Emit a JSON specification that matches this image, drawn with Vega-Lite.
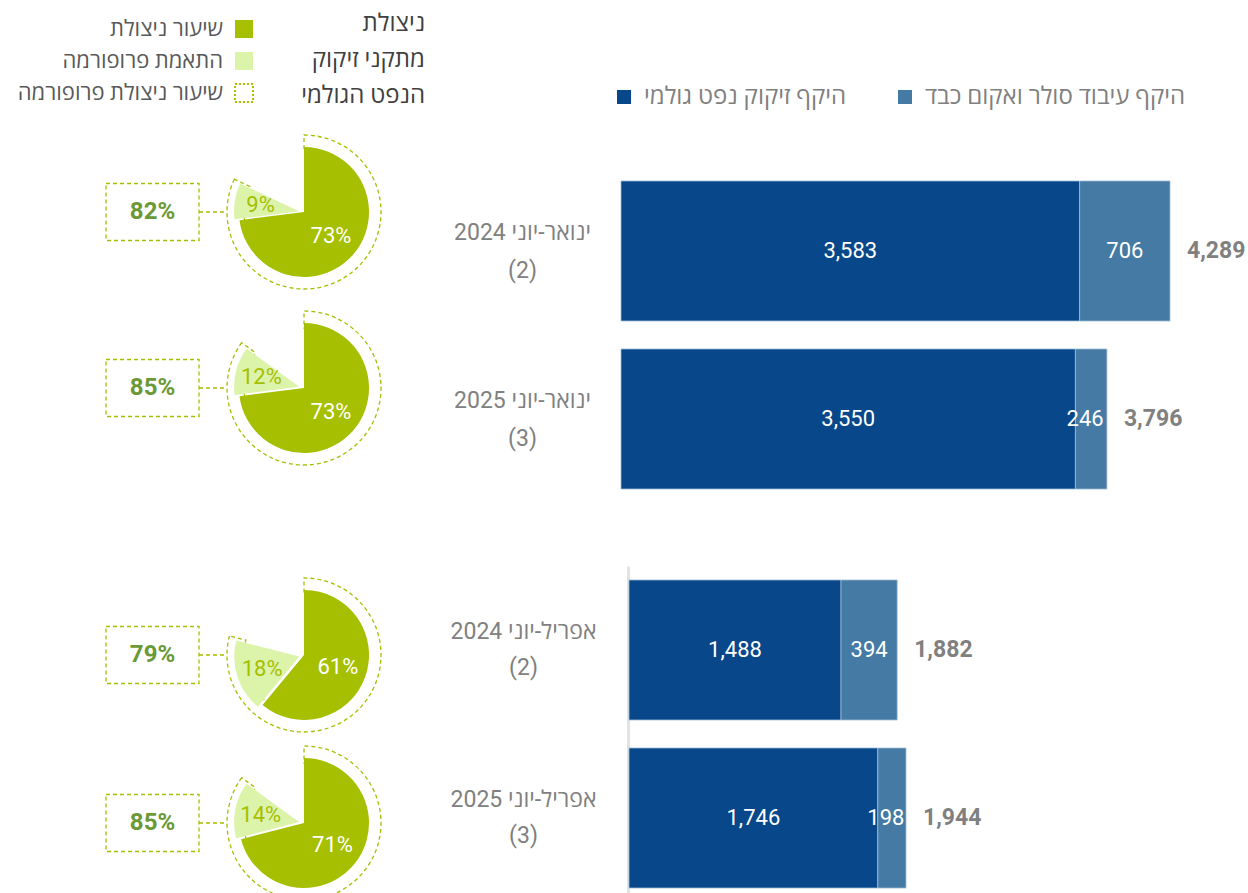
{
  "$schema": "https://vega.github.io/schema/vega-lite/v6.json",
  "autosize": {"type": "pad"},
  "padding": 0,
  "background": "white",
  "config": {
    "view": {"stroke": null},
    "font": "Roboto, 'Open Sans', 'Liberation Sans', sans-serif"
  },
  "datasets": {
    "pie1": [
      {"label": "ינואר-יוני 2024 (2)", "part": "שיעור ניצולת", "value": 73, "total": 82},
      {"label": "ינואר-יוני 2024 (2)", "part": "התאמת פרופורמה", "value": 9, "total": 82},
      {"label": "ינואר-יוני 2025 (3)", "part": "שיעור ניצולת", "value": 73, "total": 85},
      {"label": "ינואר-יוני 2025 (3)", "part": "התאמת פרופורמה", "value": 12, "total": 85}
    ],
    "pie2": [
      {"label": "אפריל-יוני 2024 (2)", "part": "שיעור ניצולת", "value": 61, "total": 79},
      {"label": "אפריל-יוני 2024 (2)", "part": "התאמת פרופורמה", "value": 18, "total": 79},
      {"label": "אפריל-יוני 2025 (3)", "part": "שיעור ניצולת", "value": 71, "total": 85},
      {"label": "אפריל-יוני 2025 (3)", "part": "התאמת פרופורמה", "value": 14, "total": 85}
    ],
    "bars1": [
      {"label": "ינואר-יוני 2024 (2)", "series": "היקף זיקוק נפט גולמי", "value": 3583},
      {"label": "ינואר-יוני 2024 (2)", "series": "היקף עיבוד סולר ואקום כבד", "value": 706},
      {"label": "ינואר-יוני 2025 (3)", "series": "היקף זיקוק נפט גולמי", "value": 3550},
      {"label": "ינואר-יוני 2025 (3)", "series": "היקף עיבוד סולר ואקום כבד", "value": 246}
    ],
    "bars2": [
      {"label": "אפריל-יוני 2024 (2)", "series": "היקף זיקוק נפט גולמי", "value": 1488},
      {"label": "אפריל-יוני 2024 (2)", "series": "היקף עיבוד סולר ואקום כבד", "value": 394},
      {"label": "אפריל-יוני 2025 (3)", "series": "היקף זיקוק נפט גולמי", "value": 1746},
      {"label": "אפריל-יוני 2025 (3)", "series": "היקף עיבוד סולר ואקום כבד", "value": 198}
    ],
    "titleLines": [
      {"line": "ניצולת"},
      {"line": "מתקני זיקוק"},
      {"line": "הנפט הגולמי"}
    ]
  },
  "columns": 2,
  "spacing": {"row": 63, "column": 13},
  "align": "each",
  "bounds": "flush",
  "resolve": {"scale": {"x": "independent", "y": "independent"}},
  "concat": [
    {
      "width": 608,
      "height": 503,
      "resolve": {"scale": {"y": "independent"}},
      "layer": [
        {
          "data": {"name": "titleLines"},
          "mark": {"type": "text", "align": "right", "dx": 121, "fontSize": 24, "fill": "#404040"},
          "encoding": {
            "y": {"field": "line", "type": "nominal", "sort": null, "axis": null, "scale": {"type": "point", "range": [24, 96], "padding": 0}},
            "text": {"field": "line"}
          }
        },
        {
          "data": {"name": "pie1"},
          "transform": [
            {"stack": "value", "groupby": ["label"], "sort": [{"field": "part", "order": "descending"}], "as": ["t0", "t1"]}
          ],
          "encoding": {
            "y": {"field": "label", "type": "nominal", "sort": null, "axis": null, "scale": {"type": "point", "range": [212, 388], "padding": 0}}
          },
          "layer": [
            {
              "transform": [{"filter": "datum.t0 > 0"}],
              "mark": {"type": "arc", "radius": 77, "radius2": 60, "filled": false, "stroke": "#a6bf00", "strokeDash": [4, 3], "strokeWidth": 1.3},
              "encoding": {
                "theta": {"field": "t1", "type": "quantitative", "stack": null, "scale": {"domain": [0, 100]}},
                "theta2": {"datum": 0}
              }
            },
            {
              "mark": {
                "type": "arc", "radius": 65,
                "xOffset": {"expr": "datum.t0 > 0 ? 5*sin(PI*(datum.t0+datum.t1)/100) : 0"},
                "yOffset": {"expr": "datum.t0 > 0 ? -5*cos(PI*(datum.t0+datum.t1)/100) : 0"}
              },
              "encoding": {
                "theta": {"field": "t1", "type": "quantitative", "stack": null, "scale": {"domain": [0, 100]}},
                "theta2": {"field": "t0"},
                "fill": {
                  "field": "part", "type": "nominal",
                  "scale": {"domain": ["שיעור ניצולת", "התאמת פרופורמה", "שיעור ניצולת  פרופורמה"], "range": ["#a6bf00", "#dcf3aa", "#ffffff"]},
                  "legend": {
                    "orient": "none", "legendX": 233, "legendY": 18, "direction": "vertical",
                    "symbolType": "square", "symbolSize": 324, "symbolStrokeWidth": 0,
                    "labelAlign": "right", "labelOffset": -32, "labelFontSize": 22, "labelColor": "#595959", "labelLimit": 400,
                    "rowPadding": 6, "title": null, "padding": 0,
                    "encode": {
                      "symbols": {
                        "update": {
                          "stroke": {"signal": "datum.value === 'שיעור ניצולת  פרופורמה' ? '#a6bf00' : 'transparent'"},
                          "strokeDash": {"signal": "datum.value === 'שיעור ניצולת  פרופורמה' ? [2,2] : [1,0]"},
                          "strokeWidth": {"value": 2}
                        }
                      }
                    }
                  }
                }
              }
            },
            {
              "mark": {
                "type": "text", "fontSize": 22,
                "radius": {"expr": "datum.t0 > 0 ? 44 : 36"},
                "theta": {"expr": "PI*(datum.t0+datum.t1)/100"},
                "fill": {"expr": "datum.t0 > 0 ? '#a6bf00' : '#ffffff'"},
                "text": {"expr": "datum.value + '%'"}
              }
            },
            {
              "transform": [{"filter": "datum.t0 > 0"}],
              "mark": {"type": "point", "shape": "M-1,-0.613H1V0.613H-1Z M1,0H1.6", "size": 8649, "xOffset": -151.5, "filled": false, "opacity": 1, "stroke": "#a6bf00", "strokeDash": [4, 3], "strokeWidth": 1.3}
            },
            {
              "transform": [{"filter": "datum.t0 > 0"}],
              "mark": {"type": "text", "dx": -151.5, "fontSize": 24, "fontWeight": "bold", "fill": "#6a9936", "text": {"expr": "datum.total + '%'"}}
            }
          ]
        }
      ]
    },
    {
      "width": 549,
      "height": 503,
      "data": {"name": "bars1"},
      "encoding": {
        "y": {
          "field": "label", "type": "nominal", "sort": null,
          "scale": {"type": "band", "range": [167, 503], "paddingInner": 0.1667, "paddingOuter": 0.0833},
          "axis": {
            "title": null, "domain": false, "ticks": false, "tickSize": 0, "labelPadding": 99, "labelAlign": "center",
            "labelFontSize": 23, "labelColor": "#808080", "labelLineHeight": 38, "labelOffset": -18,
            "labelExpr": "[slice(datum.label, -8, -4) + ' ' + slice(datum.label, 0, -9), slice(datum.label, -3)]"
          }
        }
      },
      "layer": [
        {
          "mark": {"type": "bar", "stroke": "#9dbbd6", "strokeWidth": 0.8},
          "encoding": {
            "x": {"field": "value", "type": "quantitative", "stack": "zero", "axis": null, "scale": {"domain": [0, 4289], "nice": false}},
            "color": {
              "field": "series", "type": "nominal",
              "scale": {"domain": ["היקף זיקוק נפט גולמי", "היקף עיבוד סולר ואקום כבד"], "range": ["#08478a", "#447aa3"]},
              "legend": {
                "orient": "none", "legendX": 612, "legendY": 85, "direction": "horizontal",
                "symbolType": "square", "symbolSize": 196, "symbolStrokeWidth": 0,
                "labelFontSize": 24, "labelColor": "#808080", "labelLimit": 400, "labelOffset": 8,
                "columnPadding": 46, "title": null, "padding": 0
              }
            },
            "order": {"field": "series", "sort": "ascending"}
          }
        },
        {
          "mark": {"type": "text", "fontSize": 22, "fill": "#ffffff", "dx": {"expr": "datum.value < 300 ? -6 : 0"}},
          "encoding": {
            "x": {"field": "value", "type": "quantitative", "stack": "zero", "bandPosition": 0.5},
            "detail": {"field": "series"},
            "order": {"field": "series", "sort": "ascending"},
            "text": {"field": "value", "type": "quantitative", "format": ",d"}
          }
        },
        {
          "transform": [{"aggregate": [{"op": "sum", "field": "value", "as": "total"}], "groupby": ["label"]}],
          "mark": {"type": "text", "align": "left", "dx": 17, "fontSize": 23, "fontWeight": "bold", "fill": "#808080"},
          "encoding": {
            "x": {"field": "total", "type": "quantitative"},
            "text": {"field": "total", "type": "quantitative", "format": ",d"}
          }
        }
      ]
    },
    {
      "width": 608,
      "height": 336,
      "data": {"name": "pie2"},
      "transform": [
        {"stack": "value", "groupby": ["label"], "sort": [{"field": "part", "order": "descending"}], "as": ["t0", "t1"]}
      ],
      "encoding": {
        "y": {"field": "label", "type": "nominal", "sort": null, "axis": null, "scale": {"type": "point", "range": [89, 257], "padding": 0}}
      },
      "layer": [
        {
          "transform": [{"filter": "datum.t0 > 0"}],
          "mark": {"type": "arc", "radius": 77, "radius2": 60, "filled": false, "stroke": "#a6bf00", "strokeDash": [4, 3], "strokeWidth": 1.3},
          "encoding": {
            "theta": {"field": "t1", "type": "quantitative", "stack": null, "scale": {"domain": [0, 100]}},
            "theta2": {"datum": 0}
          }
        },
        {
          "mark": {
            "type": "arc", "radius": 65,
            "xOffset": {"expr": "datum.t0 > 0 ? 5*sin(PI*(datum.t0+datum.t1)/100) : 0"},
            "yOffset": {"expr": "datum.t0 > 0 ? -5*cos(PI*(datum.t0+datum.t1)/100) : 0"}
          },
          "encoding": {
            "theta": {"field": "t1", "type": "quantitative", "stack": null, "scale": {"domain": [0, 100]}},
            "theta2": {"field": "t0"},
            "fill": {
              "field": "part", "type": "nominal",
              "scale": {"domain": ["שיעור ניצולת", "התאמת פרופורמה", "שיעור ניצולת  פרופורמה"], "range": ["#a6bf00", "#dcf3aa", "#ffffff"]},
              "legend": {
                "orient": "none", "legendX": 233, "legendY": 18, "direction": "vertical",
                "symbolType": "square", "symbolSize": 324, "symbolStrokeWidth": 0,
                "labelAlign": "right", "labelOffset": -32, "labelFontSize": 22, "labelColor": "#595959", "labelLimit": 400,
                "rowPadding": 6, "title": null, "padding": 0,
                "encode": {
                  "symbols": {
                    "update": {
                      "stroke": {"signal": "datum.value === 'שיעור ניצולת  פרופורמה' ? '#a6bf00' : 'transparent'"},
                      "strokeDash": {"signal": "datum.value === 'שיעור ניצולת  פרופורמה' ? [2,2] : [1,0]"},
                      "strokeWidth": {"value": 2}
                    }
                  }
                }
              }
            }
          }
        },
        {
          "mark": {
            "type": "text", "fontSize": 22,
            "radius": {"expr": "datum.t0 > 0 ? 44 : 36"},
            "theta": {"expr": "PI*(datum.t0+datum.t1)/100"},
            "fill": {"expr": "datum.t0 > 0 ? '#a6bf00' : '#ffffff'"},
            "text": {"expr": "datum.value + '%'"}
          }
        },
        {
          "transform": [{"filter": "datum.t0 > 0"}],
          "mark": {"type": "point", "shape": "M-1,-0.613H1V0.613H-1Z M1,0H1.6", "size": 8649, "xOffset": -151.5, "filled": false, "opacity": 1, "stroke": "#a6bf00", "strokeDash": [4, 3], "strokeWidth": 1.3}
        },
        {
          "transform": [{"filter": "datum.t0 > 0"}],
          "mark": {"type": "text", "dx": -151.5, "fontSize": 24, "fontWeight": "bold", "fill": "#6a9936", "text": {"expr": "datum.total + '%'"}}
        }
      ]
    },
    {
      "width": 285,
      "height": 336,
      "data": {"name": "bars2"},
      "encoding": {
        "y": {
          "field": "label", "type": "nominal", "sort": null,
          "scale": {"type": "band", "paddingInner": 0.1667, "paddingOuter": 0.0833},
          "axis": {
            "title": null, "domain": true, "domainColor": "#e3e3e3", "domainWidth": 3, "ticks": false, "tickSize": 0,
            "offset": -7, "labelPadding": 105, "labelAlign": "center",
            "labelFontSize": 23, "labelColor": "#808080", "labelLineHeight": 36, "labelOffset": -18,
            "labelExpr": "[slice(datum.label, -8, -4) + ' ' + slice(datum.label, 0, -9), slice(datum.label, -3)]"
          }
        }
      },
      "layer": [
        {
          "mark": {"type": "bar", "stroke": "#9dbbd6", "strokeWidth": 0.8},
          "encoding": {
            "x": {"field": "value", "type": "quantitative", "stack": "zero", "axis": null, "scale": {"domain": [0, 1944], "nice": false, "range": [8, 285]}},
            "color": {
              "field": "series", "type": "nominal",
              "scale": {"domain": ["היקף זיקוק נפט גולמי", "היקף עיבוד סולר ואקום כבד"], "range": ["#08478a", "#447aa3"]},
              "legend": {
                "orient": "none", "legendX": 612, "legendY": 85, "direction": "horizontal",
                "symbolType": "square", "symbolSize": 196, "symbolStrokeWidth": 0,
                "labelFontSize": 24, "labelColor": "#808080", "labelLimit": 400, "labelOffset": 8,
                "columnPadding": 46, "title": null, "padding": 0
              }
            },
            "order": {"field": "series", "sort": "ascending"}
          }
        },
        {
          "mark": {"type": "text", "fontSize": 22, "fill": "#ffffff", "dx": {"expr": "datum.value < 300 ? -6 : 0"}},
          "encoding": {
            "x": {"field": "value", "type": "quantitative", "stack": "zero", "bandPosition": 0.5},
            "detail": {"field": "series"},
            "order": {"field": "series", "sort": "ascending"},
            "text": {"field": "value", "type": "quantitative", "format": ",d"}
          }
        },
        {
          "transform": [{"aggregate": [{"op": "sum", "field": "value", "as": "total"}], "groupby": ["label"]}],
          "mark": {"type": "text", "align": "left", "dx": 17, "fontSize": 23, "fontWeight": "bold", "fill": "#808080"},
          "encoding": {
            "x": {"field": "total", "type": "quantitative"},
            "text": {"field": "total", "type": "quantitative", "format": ",d"}
          }
        }
      ]
    }
  ]
}
